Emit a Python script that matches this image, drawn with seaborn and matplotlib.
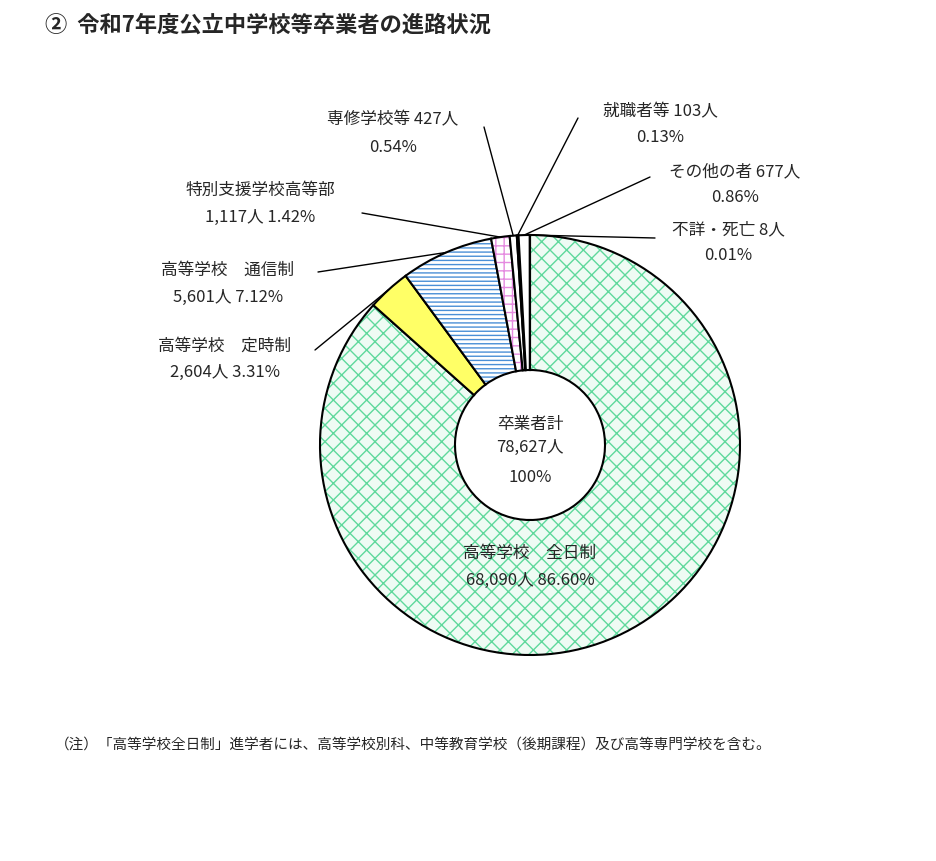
import numpy as np
import seaborn as sns
from matplotlib import pyplot as plt
from matplotlib.patches import Wedge

sns.set_theme(style="white")
plt.rcParams["font.family"] = ["Noto Sans CJK JP", "DejaVu Sans"]
plt.rcParams["hatch.linewidth"] = 1.0

categories = ["高等学校　全日制", "高等学校　定時制", "高等学校　通信制", "特別支援学校高等部",
              "専修学校等", "就職者等", "その他の者", "不詳・死亡"]
counts = [68090, 2604, 5601, 1117, 427, 103, 677, 8]
percents = ["86.60%", "3.31%", "7.12%", "1.42%", "0.54%", "0.13%", "0.86%", "0.01%"]
total = 78627

faces = ["#effbf4", "#ffff66", "white", "white", "white", "black", "white", "black"]
hatch_colors = ["#5fd89c", "none", "#4a8fd6", "#e58be0", "none", "none", "none", "none"]
hatches = ["xx", None, "----", "++", None, None, None, None]

fig = plt.figure(figsize=(9.37, 8.61), dpi=100)
ax = fig.add_axes([0, 0, 1, 1])
ax.set_xlim(0, 937)
ax.set_ylim(0, 861)
ax.axis("off")

H = 861
cx, cy = 530, H - 445
r_out, r_in = 210, 75

# wedges clockwise from top
theta = 90.0
mids = []
for i, c in enumerate(counts):
    span = 360.0 * c / total
    t1, t2 = theta - span, theta
    w = Wedge((cx, cy), r_out, t1, t2, width=r_out - r_in, facecolor=faces[i],
              edgecolor=hatch_colors[i] if hatches[i] else faces[i],
              hatch=hatches[i], linewidth=0)
    ax.add_patch(w)
    ax.add_patch(Wedge((cx, cy), r_out, t1, t2, width=r_out - r_in,
                       facecolor="none", edgecolor="black", linewidth=1.5))
    mids.append(np.deg2rad((t1 + t2) / 2))
    theta = t1

fs = 12
# outer labels: (line1, line2, x, y1, y2, anchor of leader)
labels = {
    1: ("高等学校　定時制", "2,604人 3.31%", 225, 346, 372, (315, 350)),
    2: ("高等学校　通信制", "5,601人 7.12%", 228, 270, 297, (318, 272)),
    3: ("特別支援学校高等部", "1,117人 1.42%", 260, 190, 217, (362, 213)),
    4: ("専修学校等 427人", "0.54%", 393, 120, 148, (484, 127)),
    5: ("就職者等 103人", "0.13%", 660, 112, 138, (578, 118)),
    6: ("その他の者 677人", "0.86%", 735, 172, 198, (650, 177)),
    7: ("不詳・死亡 8人", "0.01%", 728, 230, 256, (655, 238)),
}
for i, (l1, l2, x, y1, y2, (ax_, ay)) in labels.items():
    ax.text(x, H - y1, l1, ha="center", va="center", fontsize=fs)
    ax.text(x, H - y2, l2, ha="center", va="center", fontsize=fs)
    ex = cx + r_out * np.cos(mids[i])
    ey = cy + r_out * np.sin(mids[i])
    ax.plot([ax_, ex], [H - ay, ey], color="black", linewidth=1)

ax.text(cx, H - 553, categories[0], ha="center", va="center", fontsize=fs)
ax.text(cx, H - 580, f"{counts[0]:,}人 {percents[0]}", ha="center", va="center", fontsize=fs)

ax.text(cx, H - 425, "卒業者計", ha="center", va="center", fontsize=fs)
ax.text(cx, H - 447, f"{total:,}人", ha="center", va="center", fontsize=fs)
ax.text(cx, H - 478, "100%", ha="center", va="center", fontsize=fs)

ax.text(45, H - 25, "②  令和7年度公立中学校等卒業者の進路状況", ha="left", va="center",
        fontsize=16, fontweight="bold")
ax.text(55, H - 745, "（注）「高等学校全日制」進学者には、高等学校別科、中等教育学校（後期課程）及び高等専門学校を含む。",
        ha="left", va="center", fontsize=10.5)

fig.savefig("out.png", dpi=100)
